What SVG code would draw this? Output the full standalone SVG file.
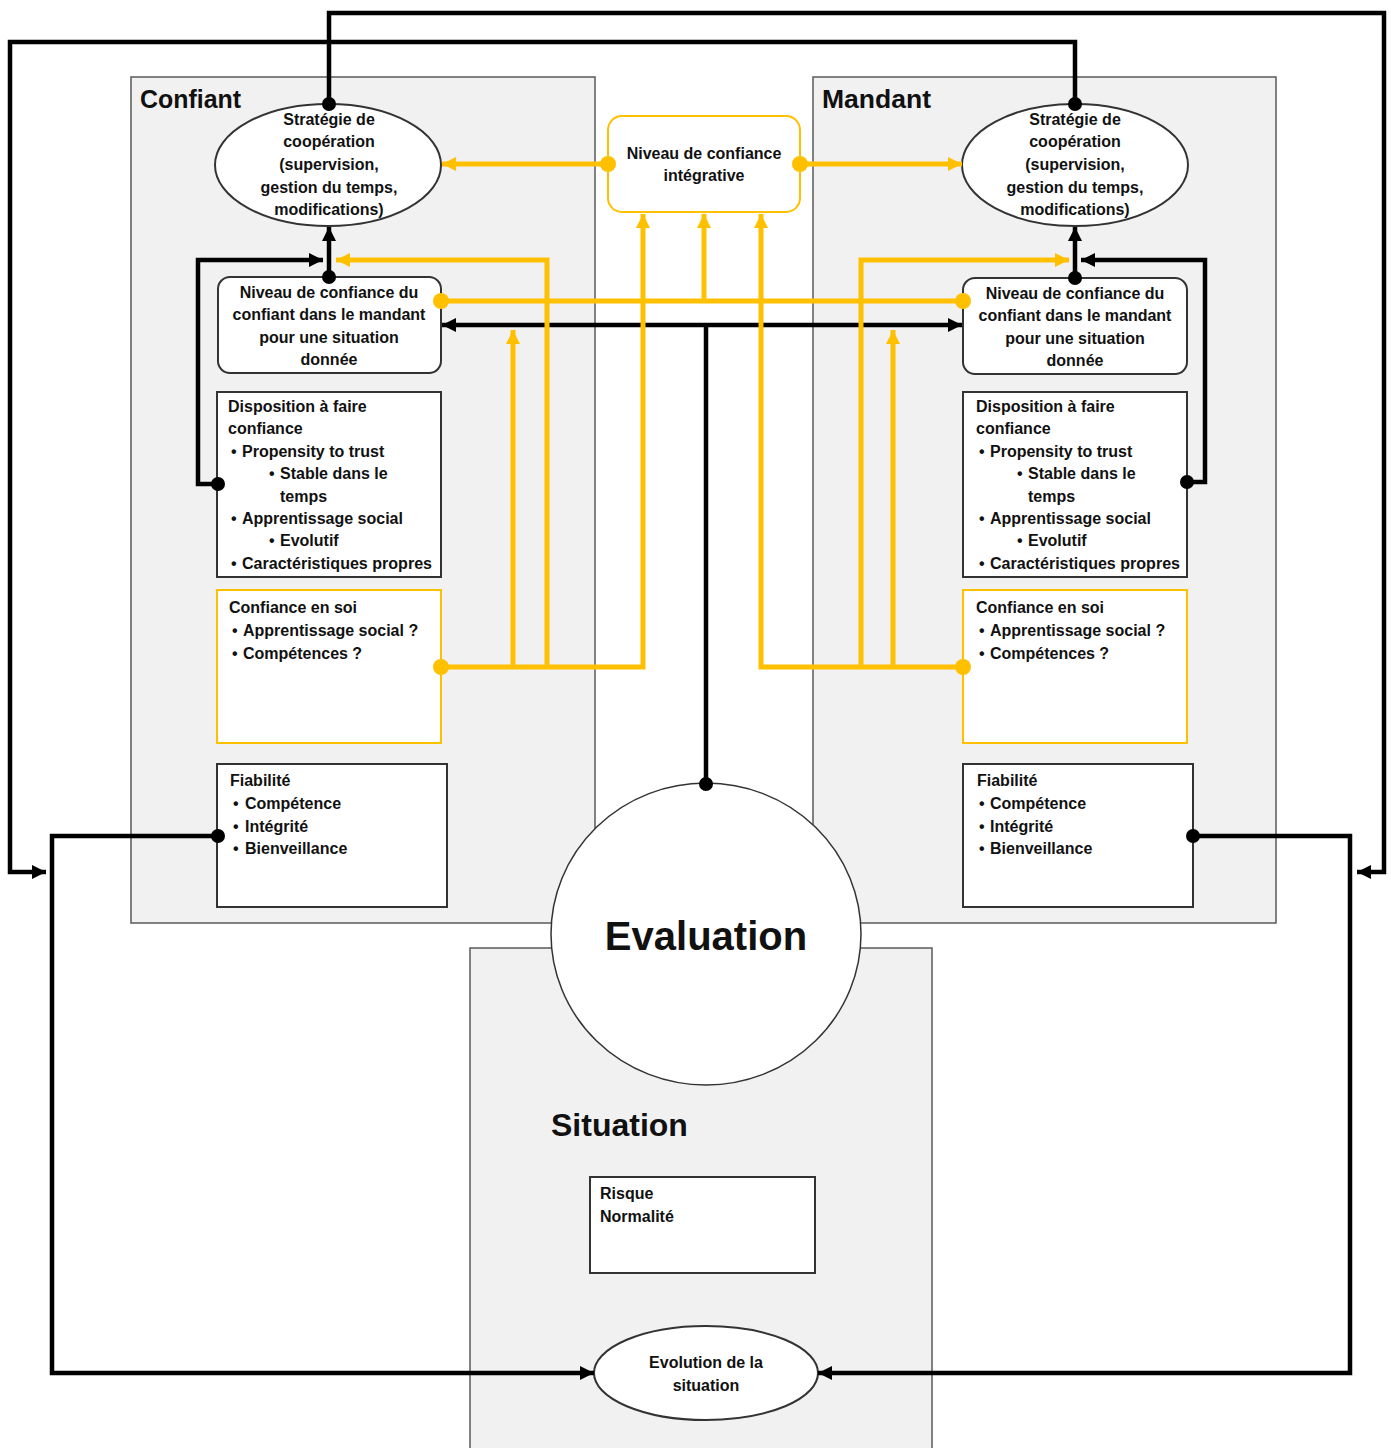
<svg xmlns="http://www.w3.org/2000/svg" width="1391" height="1448" viewBox="0 0 1391 1448">
<style>
text{font-family:"Liberation Sans",Arial,sans-serif;font-weight:bold;fill:#111;}
.t{font-size:16px;}
.c{text-anchor:middle;}
.title{font-size:25px;}
.panel{fill:#f1f1f1;stroke:#5a5a5a;stroke-width:1.5;}
.box{fill:#fff;stroke:#333;stroke-width:2;}
.ybox{fill:#fff;stroke:#ffc000;stroke-width:2;}
.bk{fill:none;stroke:#000;stroke-width:4.5;}
.yl{fill:none;stroke:#ffc000;stroke-width:5;}
.db{fill:#000;}
.dy{fill:#ffc000;}
</style>
<defs>
<marker id="ab" viewBox="0 0 10 10" refX="10" refY="5" markerUnits="userSpaceOnUse" markerWidth="14" markerHeight="14" orient="auto"><path d="M0,0 L10,5 L0,10 z" fill="#000"/></marker>
<marker id="ay" viewBox="0 0 10 10" refX="10" refY="5" markerUnits="userSpaceOnUse" markerWidth="14" markerHeight="14" orient="auto"><path d="M0,0 L10,5 L0,10 z" fill="#ffc000"/></marker>
</defs>
<rect width="1391" height="1448" fill="#fff"/>

<g id="panel-confiant">
<rect class="panel" x="131" y="77" width="464" height="846"/>
<text class="title" x="140" y="108" textLength="101" lengthAdjust="spacingAndGlyphs">Confiant</text>
</g>
<g id="panel-mandant">
<rect class="panel" x="813" y="77" width="463" height="846"/>
<text class="title" x="822" y="108" textLength="109" lengthAdjust="spacingAndGlyphs">Mandant</text>
</g>
<g id="panel-situation">
<rect class="panel" x="470" y="948" width="462" height="510"/>
<text x="551" y="1136" style="font-size:32px">Situation</text>
</g>
<g id="evaluation">
<ellipse cx="706" cy="934" rx="155" ry="151" fill="#fff" stroke="#333" stroke-width="1.5"/>
<text class="c" x="706" y="950" style="font-size:40px">Evaluation</text>
</g>

<g id="strategie-confiant">
<ellipse class="box" cx="328" cy="165" rx="113" ry="61"/>
<text class="t c" x="329" y="125">Stratégie de</text>
<text class="t c" x="329" y="147">coopération</text>
<text class="t c" x="329" y="170">(supervision,</text>
<text class="t c" x="329" y="193">gestion du temps,</text>
<text class="t c" x="329" y="215">modifications)</text>
</g>
<g id="strategie-mandant">
<ellipse class="box" cx="1075" cy="165" rx="113" ry="61"/>
<text class="t c" x="1075" y="125">Stratégie de</text>
<text class="t c" x="1075" y="147">coopération</text>
<text class="t c" x="1075" y="170">(supervision,</text>
<text class="t c" x="1075" y="193">gestion du temps,</text>
<text class="t c" x="1075" y="215">modifications)</text>
</g>
<g id="niveau-integrative">
<rect x="608" y="116" width="192" height="96" rx="14" fill="#fff" stroke="#ffc000" stroke-width="2"/>
<text class="t c" x="704" y="159">Niveau de confiance</text>
<text class="t c" x="704" y="181">intégrative</text>
</g>

<g id="niveau-confiant">
<rect class="box" x="218" y="277" width="223" height="96" rx="12"/>
<text class="t c" x="329" y="298">Niveau de confiance du</text>
<text class="t c" x="329" y="320">confiant dans le mandant</text>
<text class="t c" x="329" y="343">pour une situation</text>
<text class="t c" x="329" y="365">donnée</text>
</g>
<g id="niveau-mandant">
<rect class="box" x="963" y="278" width="224" height="96" rx="12"/>
<text class="t c" x="1075" y="299">Niveau de confiance du</text>
<text class="t c" x="1075" y="321">confiant dans le mandant</text>
<text class="t c" x="1075" y="344">pour une situation</text>
<text class="t c" x="1075" y="366">donnée</text>
</g>

<g id="disposition-confiant">
<rect class="box" x="217" y="392" width="224" height="185"/>
<text class="t" x="228" y="412">Disposition à faire</text>
<text class="t" x="228" y="434">confiance</text>
<text class="t" x="231" y="457">•</text><text class="t" x="242" y="457">Propensity to trust</text>
<text class="t" x="269" y="479">•</text><text class="t" x="280" y="479">Stable dans le</text>
<text class="t" x="280" y="502">temps</text>
<text class="t" x="231" y="524">•</text><text class="t" x="242" y="524">Apprentissage social</text>
<text class="t" x="269" y="546">•</text><text class="t" x="280" y="546">Evolutif</text>
<text class="t" x="231" y="569">•</text><text class="t" x="242" y="569" textLength="190" lengthAdjust="spacingAndGlyphs">Caractéristiques propres</text>
</g>
<g id="disposition-mandant">
<rect class="box" x="963" y="392" width="224" height="185"/>
<text class="t" x="976" y="412">Disposition à faire</text>
<text class="t" x="976" y="434">confiance</text>
<text class="t" x="979" y="457">•</text><text class="t" x="990" y="457">Propensity to trust</text>
<text class="t" x="1017" y="479">•</text><text class="t" x="1028" y="479">Stable dans le</text>
<text class="t" x="1028" y="502">temps</text>
<text class="t" x="979" y="524">•</text><text class="t" x="990" y="524">Apprentissage social</text>
<text class="t" x="1017" y="546">•</text><text class="t" x="1028" y="546">Evolutif</text>
<text class="t" x="979" y="569">•</text><text class="t" x="990" y="569" textLength="190" lengthAdjust="spacingAndGlyphs">Caractéristiques propres</text>
</g>

<g id="confiance-soi-confiant">
<rect class="ybox" x="217" y="590" width="224" height="153"/>
<text class="t" x="229" y="613">Confiance en soi</text>
<text class="t" x="232" y="636">•</text><text class="t" x="243" y="636">Apprentissage social ?</text>
<text class="t" x="232" y="659">•</text><text class="t" x="243" y="659">Compétences ?</text>
</g>
<g id="confiance-soi-mandant">
<rect class="ybox" x="963" y="590" width="224" height="153"/>
<text class="t" x="976" y="613">Confiance en soi</text>
<text class="t" x="979" y="636">•</text><text class="t" x="990" y="636">Apprentissage social ?</text>
<text class="t" x="979" y="659">•</text><text class="t" x="990" y="659">Compétences ?</text>
</g>

<g id="fiabilite-confiant">
<rect class="box" x="217" y="764" width="230" height="143"/>
<text class="t" x="230" y="786">Fiabilité</text>
<text class="t" x="233" y="809">•</text><text class="t" x="245" y="809">Compétence</text>
<text class="t" x="233" y="832">•</text><text class="t" x="245" y="832">Intégrité</text>
<text class="t" x="233" y="854">•</text><text class="t" x="245" y="854">Bienveillance</text>
</g>
<g id="fiabilite-mandant">
<rect class="box" x="963" y="764" width="230" height="143"/>
<text class="t" x="977" y="786">Fiabilité</text>
<text class="t" x="979" y="809">•</text><text class="t" x="990" y="809">Compétence</text>
<text class="t" x="979" y="832">•</text><text class="t" x="990" y="832">Intégrité</text>
<text class="t" x="979" y="854">•</text><text class="t" x="990" y="854">Bienveillance</text>
</g>

<g id="risque">
<rect class="box" x="590" y="1177" width="225" height="96"/>
<text class="t" x="600" y="1199">Risque</text>
<text class="t" x="600" y="1222">Normalité</text>
</g>
<g id="evolution">
<ellipse class="box" cx="706" cy="1373" rx="112" ry="47"/>
<text class="t c" x="706" y="1368">Evolution de la</text>
<text class="t c" x="706" y="1391">situation</text>
</g>

<g id="connectors">
<path class="bk" d="M329,104 V13 H1384 V872 H1357" marker-end="url(#ab)"/>
<path class="bk" d="M1075,104 V42 H10 V872 H46" marker-end="url(#ab)"/>
<path class="bk" d="M218,836 H52 V1373 H594" marker-end="url(#ab)"/>
<path class="bk" d="M1193,836 H1350 V1373 H818" marker-end="url(#ab)"/>
<path class="bk" d="M706,784 V325"/>
<path class="bk" d="M706,325 H442" marker-end="url(#ab)"/>
<path class="bk" d="M706,325 H962" marker-end="url(#ab)"/>
<path class="bk" d="M218,484 H198 V260 H323" marker-end="url(#ab)"/>
<path class="bk" d="M329,277 V227" marker-end="url(#ab)"/>
<path class="bk" d="M1187,482 H1205 V260 H1081" marker-end="url(#ab)"/>
<path class="bk" d="M1075,278 V227" marker-end="url(#ab)"/>

<path class="yl" d="M608,164 H442" marker-end="url(#ay)"/>
<path class="yl" d="M800,164 H962" marker-end="url(#ay)"/>
<path class="yl" d="M441,301 H963"/>
<path class="yl" d="M704,301 V214" marker-end="url(#ay)"/>
<path class="yl" d="M441,667 H643 V214" marker-end="url(#ay)"/>
<path class="yl" d="M513,667 V330" marker-end="url(#ay)"/>
<path class="yl" d="M547,667 V260 H336" marker-end="url(#ay)"/>
<path class="yl" d="M963,667 H761 V214" marker-end="url(#ay)"/>
<path class="yl" d="M893,667 V330" marker-end="url(#ay)"/>
<path class="yl" d="M861,667 V260 H1069" marker-end="url(#ay)"/>

<circle class="db" cx="329" cy="104" r="7"/>
<circle class="db" cx="1075" cy="104" r="7"/>
<circle class="db" cx="218" cy="836" r="7"/>
<circle class="db" cx="1193" cy="836" r="7"/>
<circle class="db" cx="706" cy="784" r="7"/>
<circle class="db" cx="218" cy="484" r="7"/>
<circle class="db" cx="1187" cy="482" r="7"/>
<circle class="db" cx="329" cy="277" r="7"/>
<circle class="db" cx="1075" cy="278" r="7"/>
<circle class="dy" cx="608" cy="164" r="8"/>
<circle class="dy" cx="800" cy="164" r="8"/>
<circle class="dy" cx="441" cy="301" r="8"/>
<circle class="dy" cx="963" cy="301" r="8"/>
<circle class="dy" cx="441" cy="667" r="8"/>
<circle class="dy" cx="963" cy="667" r="8"/>
</g>
</svg>
